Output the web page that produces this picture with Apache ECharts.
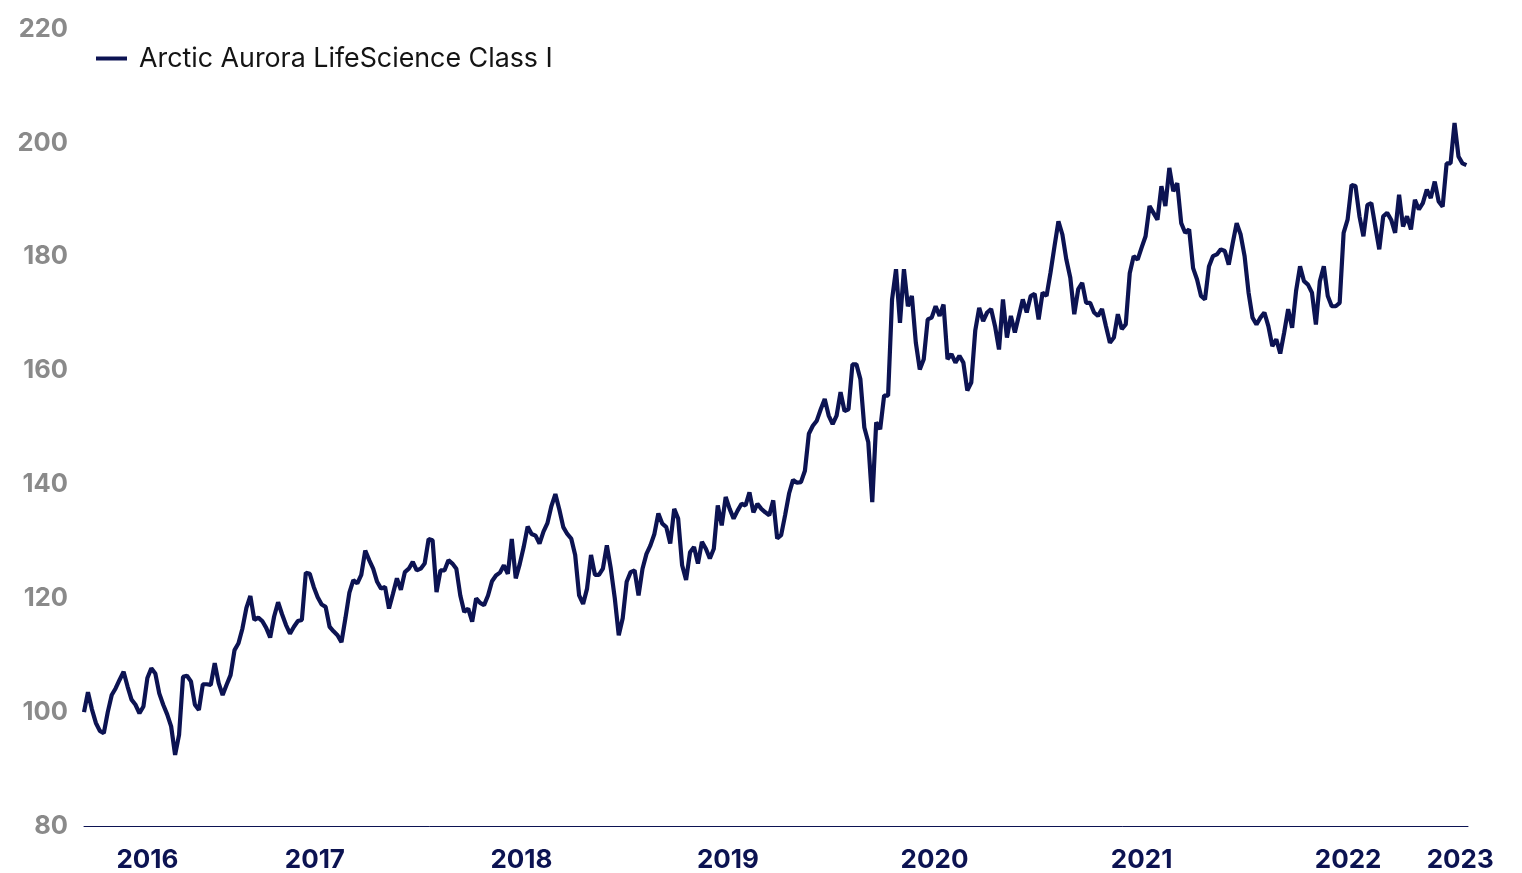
<!DOCTYPE html>
<html>
<head>
<meta charset="utf-8">
<script src="https://cdn.jsdelivr.net/npm/echarts@6/dist/echarts.min.js"></script>
<style>
  html, body { margin: 0; padding: 0; background: #fff; }
  #chart { width: 1522px; height: 873px; }
</style>
</head>
<body>
<div id="chart"></div>
<script>
// Series name and weekly index values (first week: 2015-11-20)
const seriesName = "Arctic Aurora LifeScience Class I";
const startDate = "2015-11-20";
const navValues = [
  100.0, 103.5, 100.5, 98.1, 96.7, 96.3, 100.0, 103.0, 104.2, 105.7,
  107.1, 104.5, 102.2, 101.3, 99.8, 101.0, 106.0, 107.7, 106.8, 103.3,
  101.3, 99.6, 97.5, 92.5, 96.0, 106.2, 106.4, 105.4, 101.3, 100.4,
  104.9, 104.9, 104.8, 108.6, 105.1, 103.0, 104.8, 106.5, 110.9, 112.1,
  114.7, 118.3, 120.4, 116.2, 116.6, 116.0, 114.8, 113.1, 116.8, 119.3,
  117.2, 115.3, 113.8, 115.0, 116.0, 116.2, 124.5, 124.3, 122.0, 120.2,
  118.9, 118.5, 115.0, 114.2, 113.5, 112.3, 116.5, 121.0, 123.2, 122.6,
  124.1, 128.4, 126.7, 125.2, 122.9, 121.7, 122.0, 118.2, 120.8, 123.5,
  121.5, 124.6, 125.2, 126.4, 124.9, 125.2, 126.1, 130.4, 130.2, 121.1,
  124.9, 124.9, 126.7, 126.1, 125.2, 120.5, 117.6, 118.2, 115.9, 120.0,
  119.2, 118.8, 120.5, 123.0, 124.0, 124.5, 125.8, 124.3, 130.4, 123.5,
  126.0, 129.0, 132.6, 131.3, 131.0, 129.6, 131.7, 133.2, 136.2, 138.3,
  135.6, 132.5, 131.3, 130.5, 127.6, 120.5, 119.0, 121.7, 127.6, 124.1,
  124.1, 125.2, 129.3, 125.2, 120.0, 113.5, 116.5, 122.9, 124.6, 124.9,
  120.5, 125.2, 127.8, 129.3, 131.3, 134.9, 133.1, 132.5, 129.6, 135.7,
  134.0, 125.8, 123.2, 128.1, 129.0, 126.1, 129.9, 128.7, 127.0, 128.7,
  136.3, 132.8, 137.8, 135.7, 134.0, 135.4, 136.6, 136.3, 138.6, 135.1,
  136.6, 135.7, 135.1, 134.6, 137.2, 130.5, 131.1, 134.6, 138.4, 140.8,
  140.3, 140.4, 142.4, 148.9, 150.3, 151.2, 153.2, 155.0, 152.1, 150.6,
  152.1, 156.2, 152.9, 153.2, 161.1, 161.1, 158.5, 150.0, 147.4, 136.9,
  150.9, 149.7, 155.6, 155.6, 172.5, 177.8, 168.4, 177.8, 171.3, 173.1,
  164.9, 160.2, 162.0, 169.0, 169.3, 171.3, 169.6, 171.6, 162.0, 162.9,
  161.4, 162.6, 161.4, 156.5, 157.9, 167.0, 171.0, 168.7, 170.2, 170.8,
  167.8, 163.7, 172.5, 165.8, 169.6, 166.7, 169.6, 172.5, 170.2, 173.1,
  173.5, 169.0, 173.7, 173.1, 177.2, 181.8, 186.2, 183.9, 179.5, 176.3,
  169.9, 174.3, 175.4, 171.9, 171.9, 170.2, 169.6, 170.8, 167.8, 164.9,
  165.8, 169.9, 167.3, 168.1, 177.1, 180.1, 179.5, 181.6, 183.6, 188.9,
  187.7, 186.5, 192.4, 188.9, 195.6, 191.5, 192.9, 185.9, 184.2, 184.8,
  178.0, 176.0, 173.1, 172.5, 178.3, 180.1, 180.4, 181.3, 181.0, 178.6,
  182.4, 185.9, 183.9, 180.1, 173.7, 169.3, 168.1, 169.3, 170.2, 167.8,
  164.3, 165.5, 163.0, 166.7, 170.8, 167.5, 174.0, 178.3, 175.7, 175.1,
  173.7, 168.1, 175.7, 178.3, 173.1, 171.3, 171.3, 171.9, 184.2, 186.5,
  192.6, 192.4, 187.1, 183.6, 189.1, 189.4, 185.3, 181.3, 187.1, 187.7,
  186.5, 184.2, 190.9, 185.3, 187.1, 184.8, 190.0, 188.3, 189.4, 191.8,
  190.3, 193.2, 189.7, 188.8, 196.4, 196.4, 203.5, 197.6, 196.4, 196.1
];

// X axis tick labels and where they sit
const xTickDates = [
  "2016-03-11", "2017-01-01", "2018-01-01", "2019-01-01",
  "2020-01-01", "2021-01-01", "2022-01-01", "2022-07-18"
];
const xTickLabels = ["2016", "2017", "2018", "2019", "2020", "2021", "2022", "2023"];

// Y axis range
const yMin = 80;
const yMax = 220;
const yStep = 20;

function drawPerformanceChart() {
  const week = 7 * 24 * 3600 * 1000;
  const t0 = Date.parse(startDate);
  const seriesData = navValues.map((v, i) => [t0 + i * week, v]);
  const tickValues = xTickDates.map((d) => Date.parse(d));

  const chart = echarts.init(document.getElementById("chart"));

  const option = {
    animation: false,
    grid: { left: 84, right: 54, top: 29, bottom: 45 },
    legend: {
      data: [seriesName],
      left: 91,
      top: 40,
      icon: "rect",
      itemWidth: 31,
      itemHeight: 4,
      textStyle: {
        fontFamily: "Inter",
        fontSize: 26.8,
        color: "#141414",
        padding: [0, 0, 0, 7],
      },
    },
    // Dates kept as timestamps on a plain value axis
    xAxis: {
      type: "value",
      min: t0,
      max: t0 + (navValues.length - 1) * week + 0.4 * week,
      axisLine: { show: true, lineStyle: { color: "#0c1352", width: 1 } },
      axisTick: { show: false },
      splitLine: { show: false },
      axisLabel: {
        customValues: tickValues,
        margin: 21,
        fontFamily: "Inter",
        fontSize: 26,
        fontWeight: "bold",
        color: "#0c1352",
        formatter: (value) => {
          const idx = tickValues.indexOf(value);
          return idx >= 0 ? xTickLabels[idx] : "";
        },
      },
    },
    yAxis: {
      type: "value",
      min: yMin,
      max: yMax,
      interval: yStep,
      axisLine: { show: false },
      axisTick: { show: false },
      splitLine: { show: false },
      axisLabel: {
        margin: 16,
        fontFamily: "Inter",
        fontSize: 25.5,
        fontWeight: "bold",
        color: "#8a8a8a",
        padding: [4, 0, 0, 0],
      },
    },
    series: [
      {
        name: seriesName,
        type: "line",
        data: seriesData,
        showSymbol: false,
        symbol: "none",
        lineStyle: { color: "#0c1352", width: 4.2 },
        itemStyle: { color: "#0c1352" },
      },
    ],
  };

  chart.setOption(option);
}

drawPerformanceChart();
</script>
</body>
</html>
